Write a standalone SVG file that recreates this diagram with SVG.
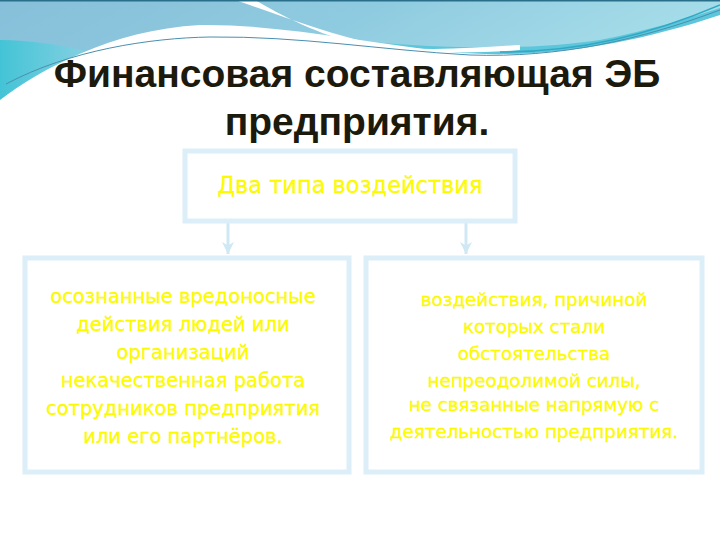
<svg xmlns="http://www.w3.org/2000/svg" width="720" height="540" viewBox="0 0 720 540">
<defs>
<linearGradient id="sky" x1="0" y1="0" x2="1" y2="0.3">
<stop offset="0" stop-color="#86bfd9"/>
<stop offset="0.5" stop-color="#8fcbe0"/>
<stop offset="1" stop-color="#a9dfea"/>
</linearGradient>
<linearGradient id="cyan" x1="0" y1="0" x2="1" y2="0">
<stop offset="0" stop-color="#43c4d6"/>
<stop offset="0.5" stop-color="#7fcfe0"/>
<stop offset="1" stop-color="#3fb9d0"/>
</linearGradient>
<marker id="arr" viewBox="0 0 10 10" refX="10" refY="5" markerWidth="4" markerHeight="4" orient="auto" markerUnits="strokeWidth">
<path d="M0,0 L10,5 L0,10 L3,5 Z" fill="#cfe8f3"/>
</marker>
<style>
.title{font-family:"Liberation Sans",Arial,sans-serif;font-weight:bold;font-size:39px;fill:#1c1a0c;text-anchor:middle}
.box{fill:#ffffff;stroke:#dceff8;stroke-width:5}
.lbl{font-family:"DejaVu Sans","Noto Sans",sans-serif;fill:#ffff00;stroke:#f4f000;stroke-width:0.3;text-anchor:middle}
.top{font-size:22.5px}
.left{font-size:19.5px}
.right{font-size:18.3px}
.conn{stroke:#cfe8f3;stroke-width:3;fill:none}
</style>
</defs>
<rect width="720" height="540" fill="#ffffff"/>
<g id="header">
<rect x="0" y="0" width="720" height="110" fill="url(#sky)"/>
<path d="M0,40 C60,40 120,60 160,70 L0,110 Z" fill="url(#cyan)"/>
<path d="M330,38 C420,48 520,52 600,40 C650,30 690,18 720,8 L720,50 C650,60 560,62 480,58 Z" fill="#5cc6da"/>
<path d="M235,0 C280,15 330,35 380,45 C420,52 470,48 520,45 L520,50 C460,55 400,52 360,45 C320,35 280,15 255,0 Z" fill="#ffffff"/>
<path d="M0,100 C40,70 110,30 200,25 C280,24 360,42 450,52 C540,60 630,45 720,15 L720,110 L0,110 Z" fill="#ffffff"/>
<path d="M6,84 C70,50 150,38 210,37 C300,36 380,50 470,55 C560,58 640,40 720,10" fill="none" stroke="#4a8fb0" stroke-width="1"/>
<path d="M500,52 C580,52 650,35 720,5" fill="none" stroke="#2fa9c5" stroke-width="1.5"/>
<rect x="0" y="0" width="720" height="1.5" fill="#2a6f8a"/>
</g>
<g id="title">
<text class="title" x="357" y="87">Финансовая составляющая ЭБ</text>
<text class="title" x="357" y="135">предприятия.</text>
</g>
<g id="connectors">
<line class="conn" x1="228" y1="222" x2="228" y2="254" marker-end="url(#arr)"/>
<line class="conn" x1="466" y1="222" x2="466" y2="254" marker-end="url(#arr)"/>
</g>
<g id="node-top">
<rect class="box" x="185" y="151" width="330" height="70"/>
<text class="lbl top" x="350" y="193">Два типа воздействия</text>
</g>
<g id="node-left">
<rect class="box" x="25" y="258" width="324" height="214"/>
<text class="lbl left" x="183" y="303">осознанные вредоносные</text>
<text class="lbl left" x="183" y="331">действия людей или</text>
<text class="lbl left" x="183" y="359">организаций</text>
<text class="lbl left" x="183" y="387">некачественная работа</text>
<text class="lbl left" x="183" y="415">сотрудников предприятия</text>
<text class="lbl left" x="183" y="443">или его партнёров.</text>
</g>
<g id="node-right">
<rect class="box" x="366" y="258" width="336" height="214"/>
<text class="lbl right" x="534" y="306">воздействия, причиной</text>
<text class="lbl right" x="534" y="333">которых стали</text>
<text class="lbl right" x="534" y="360">обстоятельства</text>
<text class="lbl right" x="534" y="387">непреодолимой силы,</text>
<text class="lbl right" x="534" y="411">не связанные напрямую с</text>
<text class="lbl right" x="534" y="438">деятельностью предприятия.</text>
</g>
</svg>
